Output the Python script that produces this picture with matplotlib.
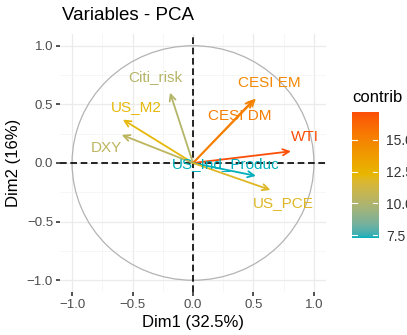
import numpy as np
import matplotlib
matplotlib.use("Agg")
import matplotlib.pyplot as plt
from matplotlib.colors import ListedColormap, Normalize, to_rgb
from matplotlib.patches import Circle

plt.rcParams['font.family'] = ['Liberation Sans', 'DejaVu Sans']

# variable coordinates on Dim1 / Dim2 and their contributions
variables = ["Citi_risk", "US_M2", "DXY", "CESI EM", "CESI DM", "WTI", "US_Ind_Produc", "US_PCE"]
dim1 = [-0.19, -0.58, -0.59, 0.52, 0.50, 0.81, 0.52, 0.64]
dim2 = [0.60, 0.37, 0.24, 0.55, 0.54, 0.10, -0.11, -0.23]
contrib = [10.2, 12.2, 10.5, 14.8, 15.3, 17.2, 7.3, 11.9]
ticks = [-1.0, -0.5, 0.0, 0.5, 1.0]
cbar_ticks = [7.5, 10.0, 12.5, 15.0]
grad_cols = ["#00AFBB", "#E7B800", "#FC4E07"]

# label offsets (pixels) so text sits like the original
label_off = {"Citi_risk": (-15, 16), "US_M2": (13, 13), "DXY": (-15, -13),
             "CESI EM": (13, 15), "CESI DM": (-14, -16), "WTI": (14, 14),
             "US_Ind_Produc": (-30, 12), "US_PCE": (13, -13)}


# ggplot interpolates gradients in Lab space, do the same
M = np.array([[0.4124, 0.3576, 0.1805], [0.2126, 0.7152, 0.0722], [0.0193, 0.1192, 0.9505]])
WHITE = np.array([0.95047, 1.0, 1.08883])


def rgb2lab(c):
    c = np.array(c)
    lin = np.where(c <= 0.04045, c / 12.92, ((c + 0.055) / 1.055) ** 2.4)
    xyz = M @ lin / WHITE
    f = np.where(xyz > 0.008856, np.cbrt(xyz), 7.787 * xyz + 16 / 116)
    return np.array([116 * f[1] - 16, 500 * (f[0] - f[1]), 200 * (f[1] - f[2])])


def lab2rgb(lab):
    fy = (lab[1 - 1] + 16) / 116
    fx = fy + lab[1] / 500
    fz = fy - lab[2] / 200
    f = np.array([fx, fy, fz])
    xyz = np.where(f ** 3 > 0.008856, f ** 3, (f - 16 / 116) / 7.787) * WHITE
    lin = np.linalg.solve(M, xyz)
    c = np.where(lin <= 0.0031308, 12.92 * lin, 1.055 * np.clip(lin, 0, None) ** (1 / 2.4) - 0.055)
    return np.clip(c, 0, 1)


labs = [rgb2lab(to_rgb(h)) for h in grad_cols]
samples = []
for t in np.linspace(0, 1, 256):
    seg = min(int(t * 2), 1)
    u = t * 2 - seg
    samples.append(lab2rgb(labs[seg] * (1 - u) + labs[seg + 1] * u))
cmap = ListedColormap(samples)
norm = Normalize(min(contrib), max(contrib))

fig = plt.figure(figsize=(4.07, 3.35), dpi=100)
ax = fig.add_axes([0.1474, 0.1284, 0.6536, 0.7701])

ax.set_xlim(-1.1, 1.1)
ax.set_ylim(-1.1, 1.1)
ax.set_xticks(ticks)
ax.set_yticks(ticks)
ax.set_xticks([-0.75, -0.25, 0.25, 0.75], minor=True)
ax.set_yticks([-0.75, -0.25, 0.25, 0.75], minor=True)
ax.grid(True, which='major', color='#ebebeb', lw=0.9, zorder=0)
ax.grid(True, which='minor', color='#f3f3f3', lw=0.5, zorder=0)
ax.set_axisbelow(True)
for s in ax.spines.values():
    s.set_visible(False)
ax.tick_params(which='major', length=3, width=1.2, color='#333333',
               labelcolor='#4d4d4d', labelsize=9.5, pad=2)
ax.tick_params(which='minor', length=0)

ax.add_patch(Circle((0, 0), 1.0, fill=False, ec='#b3b3b3', lw=0.9, zorder=1))
ax.axhline(0, color='black', lw=1.2, ls=(0, (4, 2.2)), zorder=2)
ax.axvline(0, color='black', lw=1.2, ls=(0, (4, 2.2)), zorder=2)

for name, x, y, c in zip(variables, dim1, dim2, contrib):
    col = cmap(norm(c))
    ax.annotate("", xy=(x, y), xytext=(0, 0),
                arrowprops=dict(arrowstyle="->,head_length=0.45,head_width=0.22",
                                color=col, lw=1.3, shrinkA=0, shrinkB=0), zorder=3)
    dx, dy = label_off[name]
    ax.annotate(name, xy=(x, y), xytext=(dx, dy), textcoords='offset pixels',
                ha='center', va='center', color=col, fontsize=11, zorder=4)

ax.set_xlabel("Dim1 (32.5%)", fontsize=12, labelpad=3)
ax.set_ylabel("Dim2 (16%)", fontsize=12, labelpad=4)
fig.text(0.152, 0.955, "Variables - PCA", fontsize=13.5, ha='left', va='center')

# colourbar legend
cax = fig.add_axes([0.865, 0.29, 0.064, 0.376])
grad = np.linspace(min(contrib), max(contrib), 256).reshape(-1, 1)
cax.imshow(grad, aspect='auto', cmap=cmap, norm=norm, origin='lower',
           extent=[0, 1, min(contrib), max(contrib)])
cax.set_xlim(0, 1)
cax.set_ylim(min(contrib), max(contrib))
cax.set_xticks([])
cax.yaxis.tick_right()
cax.set_yticks(cbar_ticks)
cax.set_yticklabels(["%.1f" % t for t in cbar_ticks])
cax.tick_params(axis='y', length=0, labelsize=10, labelcolor='#333333', pad=6)
for t in cbar_ticks:
    cax.plot([0, 0.2], [t, t], color='white', lw=0.8)
    cax.plot([0.8, 1], [t, t], color='white', lw=0.8)
for s in cax.spines.values():
    s.set_visible(False)
fig.text(0.865, 0.71, "contrib", fontsize=12, ha='left', va='center')

fig.savefig("out.png", dpi=100)
